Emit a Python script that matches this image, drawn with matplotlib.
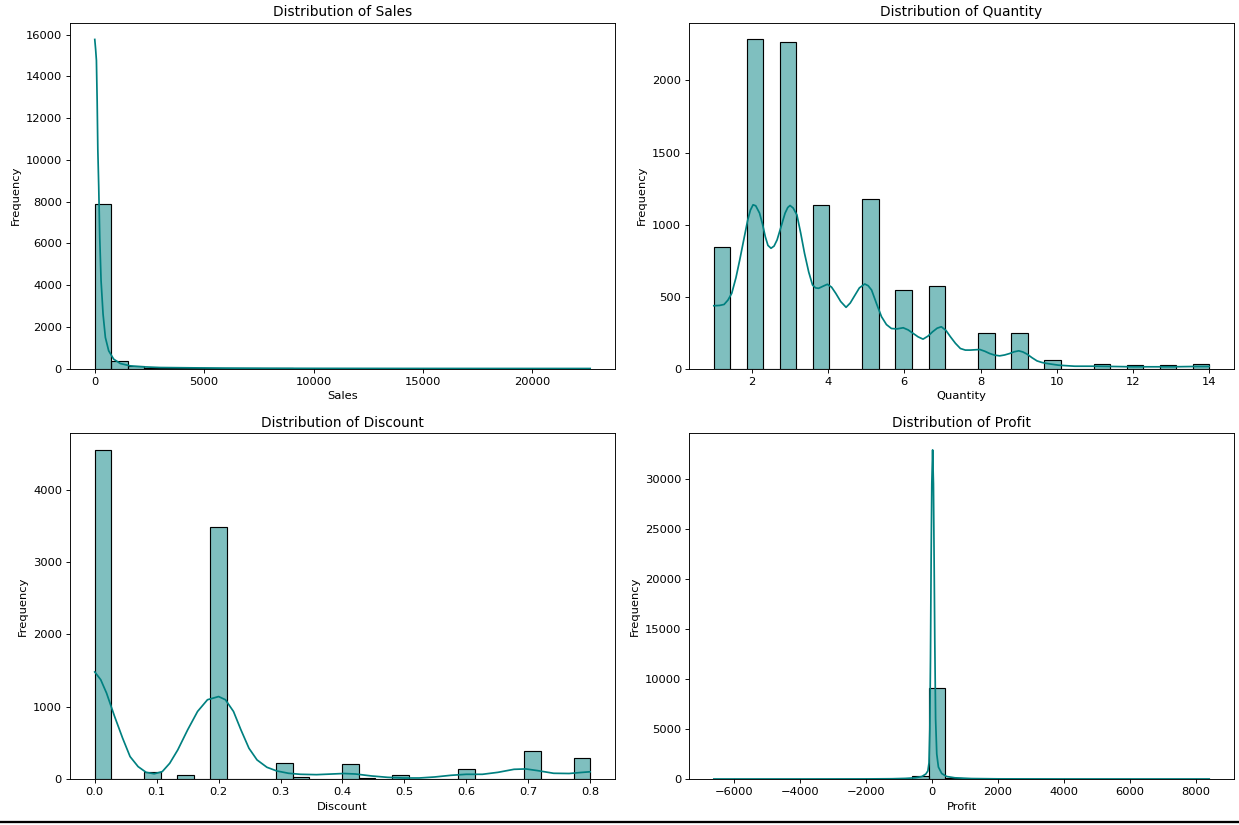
import numpy as np
import matplotlib
matplotlib.use("Agg")
import matplotlib.pyplot as plt
from matplotlib.lines import Line2D

# === Histogram data (30 bins each, counts) ===
sales_range = [0.444, 22638.48]
sales_counts = [7905, 370, 100, 45, 25, 14, 9, 6, 4, 3, 2, 2, 1, 1, 0,
                1, 0, 0, 1, 0, 0, 0, 0, 0, 0, 0, 0, 0, 0, 1]
sales_kde_x = [0.444, 40, 76, 110, 140, 182, 227, 288, 379, 485, 636, 864,
               1167, 1621, 2227, 2985, 4500, 6000, 8000, 10000, 14000, 18000, 22638]
sales_kde_y = [15776, 15300, 14770, 12800, 10500, 8690, 6290, 4210, 2610, 1490,
               850, 450, 240, 128, 80, 48, 32, 20, 12, 8, 4, 2, 1]

quantity_range = [1, 14]
quantity_counts = [846, 0, 2285, 0, 2269, 0, 1137, 0, 0, 1176, 0, 543, 0, 575, 0,
                   0, 250, 0, 244, 0, 56, 0, 0, 28, 0, 22, 0, 22, 0, 28]
quantity_kde_x = [1.0, 1.15, 1.27, 1.37, 1.47, 1.58, 1.68, 1.79, 1.89, 1.96, 2.03, 2.1,
                  2.2, 2.28, 2.35, 2.42, 2.5, 2.58, 2.66, 2.77, 2.87, 2.94, 3.0, 3.08,
                  3.18, 3.28, 3.38, 3.49, 3.59, 3.67, 3.75, 3.87, 3.98, 4.09, 4.2, 4.33,
                  4.47, 4.58, 4.68, 4.82, 4.96, 5.05, 5.14, 5.27, 5.4, 5.53, 5.66, 5.8,
                  5.97, 6.1, 6.23, 6.36, 6.49, 6.62, 6.74, 6.86, 6.97, 7.09, 7.21, 7.34,
                  7.47, 7.6, 7.73, 7.85, 7.98, 8.11, 8.24, 8.37, 8.5, 8.63, 8.76, 8.88,
                  9.0, 9.11, 9.22, 9.35, 9.48, 9.61, 9.74, 10.05, 10.47, 10.98, 11.5,
                  12.0, 12.53, 13.05, 13.57, 14.0]
quantity_kde_y = [436, 438, 445, 475, 522, 630, 754, 900, 1032, 1100, 1137, 1130,
                  1079, 1000, 916, 855, 835, 850, 893, 990, 1079, 1118, 1132, 1115,
                  1067, 940, 800, 670, 580, 560, 557, 572, 585, 565, 522, 465,
                  425, 455, 499, 560, 587, 575, 545, 450, 360, 305, 278, 275,
                  283, 268, 244, 220, 204, 225, 255, 280, 290, 265, 220, 175,
                  139, 128, 128, 130, 132, 120, 104, 93, 88, 94, 104, 116,
                  123, 115, 100, 75, 53, 42, 35, 23, 16, 16, 14,
                  12, 12, 12, 14, 14]

discount_range = [0.0, 0.8]
discount_counts = [4550, 0, 0, 92, 0, 52, 0, 3491, 0, 0, 0, 217, 25, 0, 0,
                   203, 11, 0, 55, 0, 0, 0, 135, 0, 0, 0, 393, 0, 0, 287]
discount_kde_x = [0.0, 0.0096, 0.019, 0.032, 0.045, 0.057, 0.07, 0.083, 0.096, 0.109,
                  0.121, 0.134, 0.15, 0.166, 0.182, 0.2, 0.211, 0.224, 0.236, 0.249,
                  0.262, 0.278, 0.294, 0.313, 0.332, 0.358, 0.383, 0.402, 0.421, 0.447,
                  0.473, 0.498, 0.524, 0.549, 0.575, 0.6, 0.626, 0.651, 0.677, 0.696,
                  0.715, 0.741, 0.766, 0.785, 0.8]
discount_kde_y = [1480, 1373, 1188, 865, 564, 310, 171, 92, 72, 102,
                  217, 402, 680, 934, 1096, 1140, 1096, 934, 680, 425,
                  264, 162, 111, 79, 65, 60, 69, 76, 69, 42,
                  23, 14, 14, 28, 51, 65, 65, 92, 134, 139,
                  116, 79, 76, 90, 100]

profit_range = [-6599.978, 8399.976]
profit_counts = [1, 0, 0, 0, 0, 0, 1, 0, 1, 4, 6, 20, 260, 9130, 130,
                 30, 12, 6, 4, 2, 1, 1, 0, 0, 0, 0, 0, 0, 0, 1]
profit_kde_x = [-6600, -4000, -2000, -1200, -800, -500, -300, -180, -120, -85, -60,
                -40, -20, 0, 25, 50, 70, 90, 115, 150, 200, 300, 450, 700, 1200,
                2000, 4000, 6000, 8400]
profit_kde_y = [1, 2, 8, 25, 60, 120, 250, 500, 800, 1600, 5000,
                12000, 22000, 29500, 32900, 29500, 22000, 14000, 6000, 2500, 1200, 550, 250, 120, 45,
                15, 4, 2, 1]

panels = [
    ("Sales", sales_range, sales_counts, sales_kde_x, sales_kde_y),
    ("Quantity", quantity_range, quantity_counts, quantity_kde_x, quantity_kde_y),
    ("Discount", discount_range, discount_counts, discount_kde_x, discount_kde_y),
    ("Profit", profit_range, profit_counts, profit_kde_x, profit_kde_y),
]

fig, axes = plt.subplots(2, 2, figsize=(15, 825 / 82.6), dpi=82.6)

for ax, (name, rng, counts, kx, ky) in zip(axes.flat, panels):
    edges = np.linspace(rng[0], rng[1], len(counts) + 1)
    ax.bar(edges[:-1], counts, width=np.diff(edges), align="edge",
           color="teal", alpha=0.5, edgecolor="none")
    ax.bar(edges[:-1], counts, width=np.diff(edges), align="edge",
           fill=False, edgecolor="black", linewidth=1)
    ax.plot(kx, ky, color="teal", linewidth=1.5)
    ax.set_title(f"Distribution of {name}")
    ax.set_xlabel(name)
    ax.set_ylabel("Frequency")

# match the screenshot's panel placement
fig.subplots_adjust(left=70 / 1239, right=1234 / 1239, top=1 - 23 / 825,
                    bottom=1 - 779 / 825, wspace=0.136, hspace=0.188)

# dark strip along the bottom edge of the screenshot
fig.add_artist(Line2D([0, 1], [3 / 825, 3 / 825], color="black", linewidth=2))

plt.savefig("out.png", dpi=82.6)
